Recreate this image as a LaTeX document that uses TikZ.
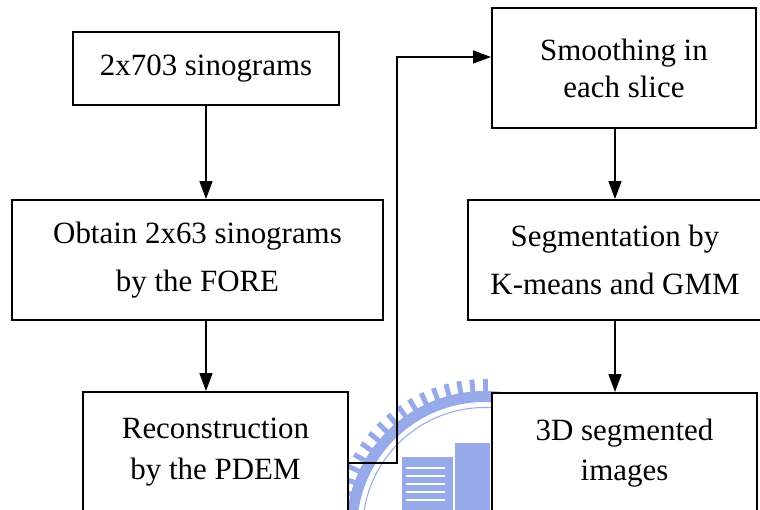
\documentclass[tikz,border=0pt]{standalone}
\usepackage{fontspec}
\setmainfont{LiberationSerif}[Extension=.ttf, UprightFont=*-Regular, BoldFont=*-Bold]
\usetikzlibrary{arrows.meta}
\definecolor{seal}{RGB}{150,170,234}

\begin{document}
\begin{tikzpicture}
  \useasboundingbox (0,0) rectangle (15.2,10.2);

  % faint seal behind the bottom row
  \begin{scope}[seal]
    \fill[even odd rule] (9.7,-0.4) circle (2.78) circle (2.56);
    \draw[line width=0.6pt] (9.7,-0.4) circle (2.45);
    \foreach \a in {90,95,...,180}
      \draw[line width=0.1cm] (9.7,-0.4) ++(\a:2.7) -- ++(\a:0.32);
    \fill (8.04,0) rectangle (9.06,1.06);
    \fill (9.1,0) rectangle (9.8,1.34);
    \foreach \y in {0.2,0.36,...,0.9}
      \draw[white, line width=1pt] (8.12,\y) -- (8.9,\y);
  \end{scope}

  \begin{scope}[every node/.style={rectangle, draw, fill=white, line width=1.1pt, inner sep=0pt, align=center, font=\rmfamily\fontsize{17.6}{21}\selectfont}]
    \node [minimum width=5.32cm, minimum height=1.46cm] (0) at (4.12,8.83) {2x703 sinograms};
    \node [minimum width=7.42cm, minimum height=2.4cm] (1) at (3.95,5.0) {Obtain 2x63 sinograms\\[6pt] by the FORE};
    \node [minimum width=5.3cm, minimum height=2.4cm] (2) at (4.31,1.16) {Reconstruction\\[2pt] by the PDEM};
    \node [minimum width=5.28cm, minimum height=2.4cm] (3) at (12.48,8.84) {Smoothing in\\ each slice};
    \node [minimum width=5.88cm, minimum height=2.4cm] (4) at (12.3,5.0) {Segmentation by\\[6pt] K-means and GMM};
    \node [minimum width=5.3cm, minimum height=2.4cm] (5) at (12.49,1.14) {3D segmented\\[2pt] images};
  \end{scope}

  \begin{scope}[->, >={Triangle[length=0.36cm, width=0.26cm]}, line width=0.85pt]
    \draw (0.south) -- (0.south |- 1.north);
    \draw (0.south |- 1.south) -- (0.south |- 2.north);
    \draw ([yshift=-0.22cm]2.east) -- ++(0.96,0) |- ([yshift=0.22cm]3.west);
    \draw (4.north |- 3.south) -- (4.north);
    \draw (4.south) -- (4.south |- 5.north);
  \end{scope}
\end{tikzpicture}
\end{document}
